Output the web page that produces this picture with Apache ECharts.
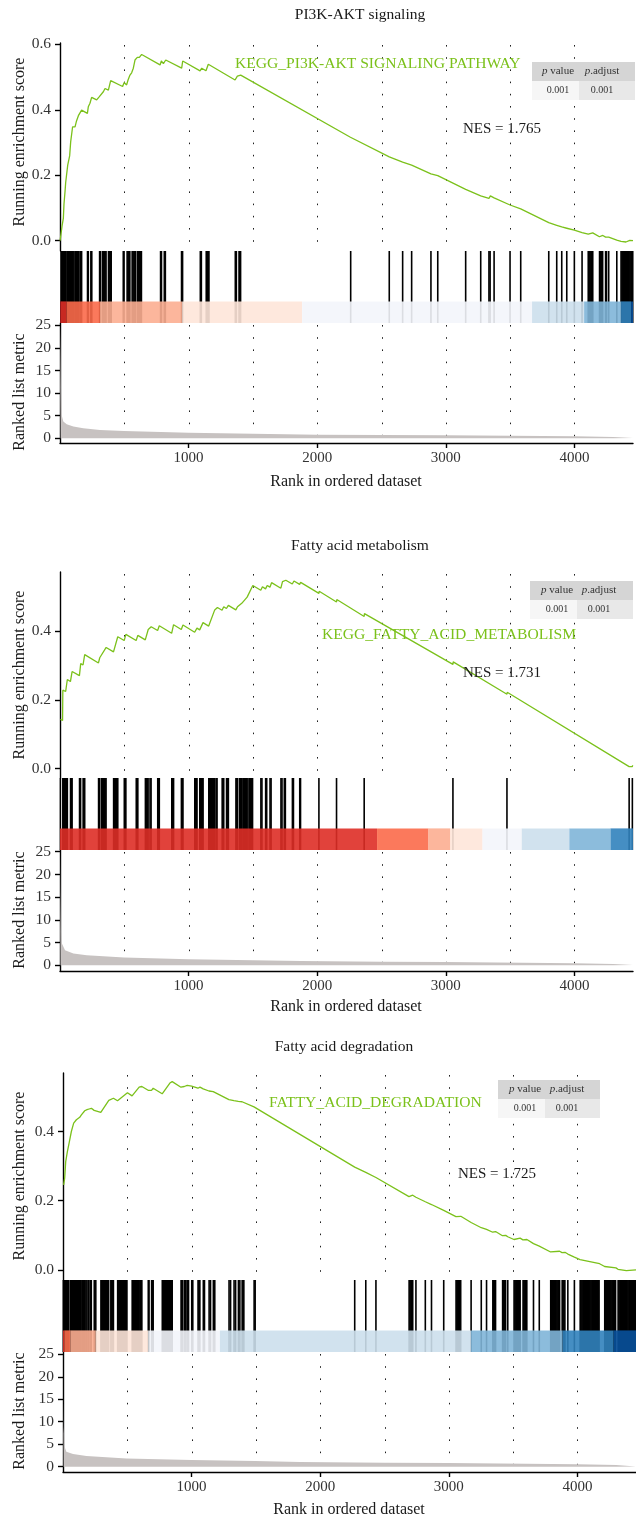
<!DOCTYPE html>
<html>
<head>
<meta charset="utf-8">
<script src="https://cdn.jsdelivr.net/npm/echarts@6/dist/echarts.min.js"></script>
<style>
  html, body { margin: 0; padding: 0; background: #fff; }
  #chart { width: 636px; height: 1527px; }
</style>
</head>
<body>
<div id="chart"></div>
<script>
// ---------------- data ----------------
const titles = ['PI3K-AKT signaling', 'Fatty acid metabolism', 'Fatty acid degradation'];
const geneSetNames = ['KEGG_PI3K-AKT SIGNALING PATHWAY', 'KEGG_FATTY_ACID_METABOLISM', 'FATTY_ACID_DEGRADATION'];
const nesValues = ['1.765', '1.731', '1.725'];
const pValues = ['0.001', '0.001', '0.001'];
const pAdjusted = ['0.001', '0.001', '0.001'];

const rankMax = 4455;
const rankTicks = [1000, 2000, 3000, 4000];
const rankGridLines = [500, 1000, 1500, 2000, 2500, 3000, 3500, 4000];
const esTicksA = [0, 0.2, 0.4, 0.6];
const esTicksB = [0, 0.2, 0.4];
const metricTicks = [0, 5, 10, 15, 20, 25];

// running enrichment score, [rank, score]
const es1 = [[1,0],[8,0.0],[16,0.045],[26,0.068],[31,0.112],[39,0.15],[44,0.177],[54,0.177],[60,0.231],[70,0.236],[75,0.259],[83,0.302],[93,0.305],[98,0.348],[117,0.348],[127,0.364],[137,0.367],[143,0.382],[156,0.384],[168,0.399],[213,0.389],[220,0.409],[233,0.42],[246,0.438],[285,0.43],[306,0.44],[316,0.445],[337,0.455],[350,0.465],[376,0.46],[394,0.489],[487,0.471],[498,0.483],[518,0.476],[529,0.491],[544,0.506],[557,0.513],[570,0.527],[583,0.552],[601,0.56],[617,0.56],[635,0.569],[778,0.537],[788,0.549],[804,0.541],[822,0.552],[946,0.527],[954,0.549],[1089,0.519],[1102,0.527],[1135,0.519],[1153,0.539],[1361,0.491],[1379,0.503],[1392,0.497],[1405,0.506],[2258,0.316],[2262,0.321],[2560,0.256],[2562,0.262],[2664,0.240],[2666,0.246],[2734,0.231],[2736,0.237],[2884,0.204],[2886,0.210],[2937,0.199],[2939,0.205],[3154,0.157],[3156,0.163],[3271,0.137],[3273,0.143],[3335,0.129],[3337,0.134],[3344,0.132],[3346,0.137],[3375,0.131],[3377,0.136],[3499,0.109],[3501,0.114],[3582,0.097],[3584,0.102],[3800,0.055],[3802,0.060],[3862,0.047],[3864,0.052],[3901,0.042],[3903,0.047],[3940,0.038],[3942,0.043],[3999,0.032],[4001,0.037],[4059,0.025],[4061,0.030],[4107,0.020],[4142,0.024],[4194,0.012],[4220,0.016],[4242,0.011],[4251,0.014],[4266,0.011],[4268,0.015],[4329,0.002],[4331,0.006],[4362,-0.002],[4400,-0.004],[4430,0.001],[4455,0.0]];
const es2 = [[3,0.143],[20,0.140],[22,0.228],[34,0.226],[44,0.224],[57,0.259],[81,0.253],[94,0.282],[151,0.270],[161,0.305],[179,0.301],[192,0.331],[299,0.307],[309,0.322],[322,0.319],[359,0.352],[416,0.339],[449,0.383],[499,0.372],[512,0.390],[592,0.372],[605,0.387],[663,0.374],[686,0.404],[699,0.401],[709,0.412],[759,0.401],[772,0.415],[868,0.393],[883,0.418],[943,0.404],[956,0.417],[1047,0.396],[1065,0.408],[1086,0.403],[1112,0.424],[1156,0.414],[1203,0.461],[1213,0.459],[1224,0.468],[1260,0.460],[1273,0.470],[1294,0.465],[1309,0.474],[1367,0.461],[1380,0.470],[1395,0.467],[1413,0.480],[1421,0.478],[1455,0.498],[1468,0.495],[1499,0.532],[1561,0.518],[1574,0.528],[1598,0.522],[1611,0.532],[1632,0.527],[1645,0.540],[1717,0.524],[1730,0.543],[1743,0.540],[1756,0.547],[1806,0.536],[1819,0.545],[1863,0.535],[1871,0.541],[2013,0.509],[2015,0.515],[2150,0.484],[2152,0.491],[2365,0.442],[2367,0.450],[3055,0.303],[3057,0.310],[3475,0.216],[3477,0.222],[4425,0.006],[4427,0.011],[4450,0.006],[4452,0.010],[4455,0.003]];
const es3 = [[5,0.246],[13,0.265],[21,0.313],[34,0.342],[47,0.366],[65,0.400],[83,0.424],[104,0.434],[130,0.441],[143,0.448],[151,0.445],[169,0.460],[177,0.457],[187,0.463],[195,0.460],[203,0.465],[213,0.462],[221,0.467],[242,0.461],[255,0.466],[294,0.455],[356,0.490],[371,0.486],[392,0.496],[424,0.489],[501,0.512],[537,0.503],[592,0.528],[600,0.526],[613,0.530],[662,0.519],[670,0.523],[688,0.519],[701,0.525],[771,0.509],[831,0.540],[836,0.539],[849,0.544],[917,0.528],[930,0.533],[943,0.530],[956,0.535],[966,0.533],[977,0.536],[1000,0.531],[1010,0.534],[1049,0.525],[1065,0.528],[1090,0.523],[1101,0.525],[1135,0.517],[1148,0.520],[1168,0.515],[1181,0.517],[1290,0.492],[1304,0.495],[1329,0.489],[1343,0.492],[1363,0.487],[1376,0.490],[1392,0.486],[1407,0.489],[1485,0.471],[1495,0.474],[2268,0.297],[2270,0.301],[2354,0.282],[2356,0.285],[2433,0.267],[2435,0.270],[2690,0.212],[2719,0.216],[2744,0.210],[2746,0.213],[2817,0.197],[2819,0.200],[2865,0.189],[2867,0.193],[2960,0.172],[2962,0.175],[3055,0.154],[3093,0.155],[3173,0.137],[3175,0.140],[3252,0.122],[3254,0.126],[3293,0.117],[3295,0.120],[3341,0.109],[3363,0.111],[3417,0.099],[3442,0.100],[3458,0.096],[3460,0.099],[3506,0.088],[3554,0.092],[3576,0.087],[3607,0.088],[3658,0.076],[3660,0.079],[3703,0.069],[3705,0.072],[3791,0.052],[3861,0.054],[3880,0.050],[3903,0.051],[3925,0.046],[3927,0.049],[3976,0.037],[3978,0.040],[4020,0.030],[4172,0.018],[4211,0.010],[4299,0.006],[4315,0.002],[4380,-0.002],[4455,0.0]];

// positions of gene-set members in the ranked list
const hits1 = [8,13,18,23,28,33,38,44,54,60,66,72,78,84,90,96,102,109,119,125,131,138,145,156,162,168,214,220,240,247,308,314,330,337,344,351,358,377,384,391,398,492,498,522,530,537,543,561,568,575,582,588,603,610,616,626,633,782,789,811,819,945,953,1091,1099,1137,1145,1152,1158,1363,1371,1392,1398,1404,2260,2560,2664,2734,2884,2937,3154,3271,3335,3344,3375,3499,3582,3800,3862,3901,3940,3999,4059,4107,4114,4121,4128,4135,4142,4195,4203,4211,4219,4242,4249,4266,4329,4362,4369,4376,4383,4390,4397,4404,4411,4418,4425,4432,4439,4446,4453];
const hits2 = [3,22,28,34,45,51,57,82,88,94,152,160,180,186,192,300,308,323,330,337,344,351,358,417,424,431,438,445,449,500,506,512,593,599,605,664,671,678,685,700,708,760,766,772,869,876,883,944,950,956,1048,1054,1060,1065,1087,1094,1101,1108,1112,1157,1164,1171,1178,1185,1192,1199,1203,1214,1221,1261,1268,1273,1295,1302,1309,1368,1375,1380,1396,1403,1410,1422,1429,1436,1443,1450,1455,1469,1476,1483,1490,1497,1562,1570,1599,1607,1633,1641,1718,1726,1744,1752,1807,1815,1864,1870,2013,2150,2365,3055,3475,4425,4450];
const hits3 = [2,8,14,20,26,32,38,44,57,63,69,75,81,87,93,99,105,111,117,123,129,135,141,152,158,164,169,178,186,196,202,214,220,243,249,255,295,301,307,313,319,325,331,337,343,349,355,372,379,386,392,425,431,437,443,449,455,461,467,473,479,485,491,497,538,544,550,556,562,568,574,580,586,592,601,607,613,663,669,689,695,701,772,778,784,790,796,802,808,814,820,826,830,837,843,849,918,924,930,944,950,956,967,976,1001,1009,1050,1057,1064,1091,1100,1136,1147,1169,1180,1291,1303,1330,1342,1364,1375,1393,1400,1406,1486,1494,2268,2354,2433,2691,2698,2705,2712,2719,2744,2817,2865,2960,3056,3063,3070,3077,3084,3092,3173,3252,3293,3342,3349,3356,3363,3418,3425,3432,3441,3458,3507,3514,3521,3528,3535,3542,3549,3554,3577,3584,3591,3598,3606,3658,3703,3792,3799,3806,3813,3820,3827,3834,3841,3848,3855,3861,3881,3888,3895,3902,3925,3976,4021,4028,4035,4042,4049,4056,4063,4070,4077,4084,4091,4098,4105,4112,4119,4126,4133,4140,4147,4154,4161,4168,4212,4219,4226,4233,4240,4247,4254,4261,4268,4275,4282,4289,4296,4316,4323,4330,4337,4344,4351,4358,4365,4372,4379,4386,4393,4400,4407,4414,4421,4428,4435,4442,4449,4455];

// ranked list metric, [rank, value]
const metric1 = [[1,25],[5,18],[8,11],[12,5.2],[26,3.7],[52,3.1],[104,2.6],[181,2.2],[311,1.85],[498,1.6],[1000,1.25],[1500,1.0],[2000,0.81],[3000,0.66],[4000,0.44],[4300,0.3],[4455,0.05]];
const metric2 = [[1,25],[4,16],[8,7],[13,4.9],[39,3.3],[104,2.6],[208,2.2],[499,1.7],[1000,1.3],[1500,1.1],[1870,0.96],[2500,0.8],[3000,0.7],[4000,0.45],[4300,0.3],[4455,0.05]];
const metric3 = [[1,25],[3,14],[5,8.9],[13,4.4],[26,3.3],[78,2.8],[182,2.4],[493,1.85],[1000,1.5],[1493,1.26],[1843,1.04],[2500,0.9],[3000,0.8],[4000,0.55],[4300,0.35],[4455,0.05]];

// colour strip under the gene marks: [startRank, endRank] and fill
const band1 = [[0,6],[6,52],[52,311],[311,949],[949,1882],[1882,3670],[3670,4075],[4075,4362],[4362,4440],[4440,4455]];
const bandColors1 = ['#A50F15','#DE2D26','#FB6A4A','#FCAE91','#FEE5D9','#F3F5FB','#CCDFEC','#80B5D8','#3182BD','#08519C'];
const band2 = [[0,2465],[2465,2865],[2865,3035],[3035,3285],[3285,3590],[3590,3960],[3960,4280],[4280,4455]];
const bandColors2 = ['#DE2D26','#FB6A4A','#FCAE91','#FEE5D9','#F3F5FB','#CCDFEC','#80B5D8','#3182BD'];
const band3 = [[0,10],[10,57],[57,255],[255,662],[662,1220],[1220,3172],[3172,3884],[3884,4281],[4281,4455]];
const bandColors3 = ['#DE2D26','#FB6A4A','#FCAE91','#FEE5D9','#F3F5FB','#CCDFEC','#80B5D8','#3182BD','#08519C'];

// ---------------- layout ----------------
const FONT = '"Liberation Serif", "DejaVu Serif", serif';
const GREEN = '#7BC11B';
const AXIS = { color: '#000', width: 1.4 };

const panels = [
  { es: es1, hits: hits1, metric: metric1, band: band1, bandColors: bandColors1, esTicks: esTicksA,
    left: 60, width: 573, top: 43, rugTop: 251, rugBottom: 323, bottom: 443,
    esMin: -0.0315, esMax: 0.604, mMin: -1.04, mMax: 25.51,
    title: [360, 15], label: [235, 64], nes: [463, 129],
    table: { x: 532, y: 62, w1: 47, w2: 56, h: 19, c1: 558, c2: 602 },
    yName1: 142, yName2: 392, xName: [346, 482] },
  { es: es2, hits: hits2, metric: metric2, band: band2, bandColors: bandColors2, esTicks: esTicksB,
    left: 60, width: 573, top: 572, rugTop: 778, rugBottom: 850, bottom: 971,
    esMin: -0.027, esMax: 0.571, mMin: -1.26, mMax: 25.38,
    title: [360, 546], label: [322, 635], nes: [463, 673],
    table: { x: 530, y: 581, w1: 47, w2: 56, h: 19, c1: 557, c2: 599 },
    yName1: 675, yName2: 910, xName: [346, 1007] },
  { es: es3, hits: hits3, metric: metric3, band: band3, bandColors: bandColors3, esTicks: esTicksB,
    left: 63, width: 573, top: 1073, rugTop: 1280, rugBottom: 1352, bottom: 1472,
    esMin: -0.029, esMax: 0.569, mMin: -1.18, mMax: 25.51,
    title: [344, 1047], label: [269, 1103], nes: [458, 1174],
    table: { x: 498, y: 1080, w1: 47, w2: 55, h: 19, c1: 525, c2: 567 },
    yName1: 1176, yName2: 1411, xName: [349, 1510] }
];

// dotted vertical guide at a rank, spanning the whole plot height
function guideLine(params, api) {
  const cs = params.coordSys;
  const x = Math.round(api.coord([api.value(0), 0])[0]) + 0.5;
  return { type: 'line', shape: { x1: x, y1: cs.y + 2, x2: x, y2: cs.y + cs.height },
           style: { stroke: '#1e1e1e', lineWidth: 1, lineDash: [1.6, 10.6] } };
}
// one gene mark, full height of the rug strip
function hitMark(params, api) {
  const top = api.coord([api.value(0), 1]);
  const bot = api.coord([api.value(0), 0]);
  return { type: 'rect', shape: { x: top[0] - 0.8, y: top[1], width: 1.6, height: bot[1] - top[1] },
           style: { fill: '#000' } };
}

const option = { animation: false, backgroundColor: '#fff', grid: [], xAxis: [], yAxis: [], series: [], graphic: [] };

panels.forEach((p, i) => {
  const g = i * 3;
  option.grid.push(
    { left: p.left, width: p.width, top: p.top, height: p.rugTop - p.top, outerBoundsMode: 'none', containLabel: false },
    { left: p.left, width: p.width, top: p.rugTop, height: p.rugBottom - p.rugTop, outerBoundsMode: 'none', containLabel: false },
    { left: p.left, width: p.width, top: p.rugBottom, height: p.bottom - p.rugBottom, outerBoundsMode: 'none', containLabel: false }
  );
  const xBase = { type: 'value', min: 0, max: rankMax, splitLine: { show: false } };
  option.xAxis.push(
    Object.assign({}, xBase, { gridIndex: g, show: false }),
    Object.assign({}, xBase, { gridIndex: g + 1, show: false }),
    Object.assign({}, xBase, {
      gridIndex: g + 2,
      axisLine: { show: true, onZero: false, lineStyle: AXIS },
      axisTick: { show: true, customValues: rankTicks, length: 5, lineStyle: AXIS },
      axisLabel: { show: true, customValues: rankTicks, margin: 8, formatter: v => String(v),
                   color: '#333', fontFamily: FONT, fontSize: 15 }
    })
  );
  option.yAxis.push(
    { type: 'value', gridIndex: g, min: p.esMin, max: p.esMax, splitLine: { show: false },
      axisLine: { show: true, onZero: false, lineStyle: AXIS },
      axisTick: { show: true, customValues: p.esTicks, length: 5, lineStyle: AXIS },
      axisLabel: { show: true, customValues: p.esTicks, margin: 9, formatter: v => Number(v).toFixed(1),
                   color: '#333', fontFamily: FONT, fontSize: 15.5 } },
    { type: 'value', gridIndex: g + 1, min: 0, max: 1, show: false },
    { type: 'value', gridIndex: g + 2, min: p.mMin, max: p.mMax, splitLine: { show: false },
      axisLine: { show: true, onZero: false, lineStyle: AXIS },
      axisTick: { show: true, customValues: metricTicks, length: 5, lineStyle: AXIS },
      axisLabel: { show: true, customValues: metricTicks, margin: 9, formatter: v => String(v),
                   color: '#333', fontFamily: FONT, fontSize: 15.5 } }
  );

  option.series.push(
    { type: 'custom', xAxisIndex: g, yAxisIndex: g, silent: true, z: 1,
      data: rankGridLines.map(r => [r, 0]), renderItem: guideLine },
    { type: 'line', xAxisIndex: g, yAxisIndex: g, data: p.es, showSymbol: false, symbol: 'none', silent: true, z: 3,
      lineStyle: { color: GREEN, width: 1.3 } },
    { type: 'custom', xAxisIndex: g + 1, yAxisIndex: g + 1, silent: true, z: 2,
      data: p.hits.map(r => [r, 1]), renderItem: hitMark },
    { type: 'custom', xAxisIndex: g + 1, yAxisIndex: g + 1, silent: true, z: 3,
      data: p.band,
      renderItem: (params, api) => {
        const a = api.coord([api.value(0), 0.3]);
        const b = api.coord([api.value(1), 0]);
        return { type: 'rect', shape: { x: a[0], y: a[1], width: b[0] - a[0], height: b[1] - a[1] },
                 style: { fill: p.bandColors[params.dataIndex], opacity: 0.9 } };
      } },
    { type: 'custom', xAxisIndex: g + 2, yAxisIndex: g + 2, silent: true, z: 1,
      data: rankGridLines.map(r => [r, 0]), renderItem: guideLine },
    { type: 'line', xAxisIndex: g + 2, yAxisIndex: g + 2, data: p.metric, showSymbol: false, symbol: 'none', silent: true, z: 2,
      lineStyle: { width: 0, color: '#c7c2c1' }, areaStyle: { color: '#c7c2c1', opacity: 1, origin: 0 } }
  );

  const txt = (x, y, text, size, fill, align, extra) => Object.assign({
    type: 'text', x: x, y: y, z: 10, silent: true,
    style: { text: text, fill: fill, font: size + 'px ' + FONT, align: align, textAlign: align,
             verticalAlign: 'middle', textVerticalAlign: 'middle' }
  }, extra || {});

  option.graphic.push(
    txt(p.title[0], p.title[1], titles[i], 15.5, '#1a1a1a', 'center'),
    txt(p.label[0], p.label[1], geneSetNames[i], 15.6, GREEN, 'left'),
    txt(p.nes[0], p.nes[1], 'NES = ' + nesValues[i], 15, '#1a1a1a', 'left'),
    txt(20, p.yName1, 'Running enrichment score', 16, '#1a1a1a', 'center', { rotation: Math.PI / 2 }),
    txt(20, p.yName2, 'Ranked list metric', 16, '#1a1a1a', 'center', { rotation: Math.PI / 2 }),
    txt(p.xName[0], p.xName[1], 'Rank in ordered dataset', 16, '#1a1a1a', 'center')
  );

  // p-value table
  const t = p.table;
  const rect = (x, y, w, h, fill) => ({ type: 'rect', z: 9, silent: true, shape: { x: x, y: y, width: w, height: h }, style: { fill: fill } });
  option.graphic.push(
    rect(t.x, t.y, t.w1 + t.w2, t.h, '#d5d5d5'),
    rect(t.x, t.y + t.h, t.w1, t.h, '#f6f6f6'),
    rect(t.x + t.w1, t.y + t.h, t.w2, t.h, '#e8e8e8'),
    { type: 'text', x: t.c1, y: t.y + t.h / 2, z: 10, silent: true,
      style: { text: '{i|p} value', rich: { i: { fontStyle: 'italic', fontFamily: FONT, fontSize: 11 } },
               fill: '#333', font: '11px ' + FONT, align: 'center', textAlign: 'center', verticalAlign: 'middle', textVerticalAlign: 'middle' } },
    { type: 'text', x: t.c2, y: t.y + t.h / 2, z: 10, silent: true,
      style: { text: '{i|p}.adjust', rich: { i: { fontStyle: 'italic', fontFamily: FONT, fontSize: 11 } },
               fill: '#333', font: '11px ' + FONT, align: 'center', textAlign: 'center', verticalAlign: 'middle', textVerticalAlign: 'middle' } },
    txt(t.c1, t.y + t.h * 1.5, pValues[i], 10, '#333', 'center'),
    txt(t.c2, t.y + t.h * 1.5, pAdjusted[i], 10, '#333', 'center')
  );
});

const chart = echarts.init(document.getElementById('chart'), null, { renderer: 'canvas', width: 636, height: 1527 });
chart.setOption(option);
</script>
</body>
</html>
